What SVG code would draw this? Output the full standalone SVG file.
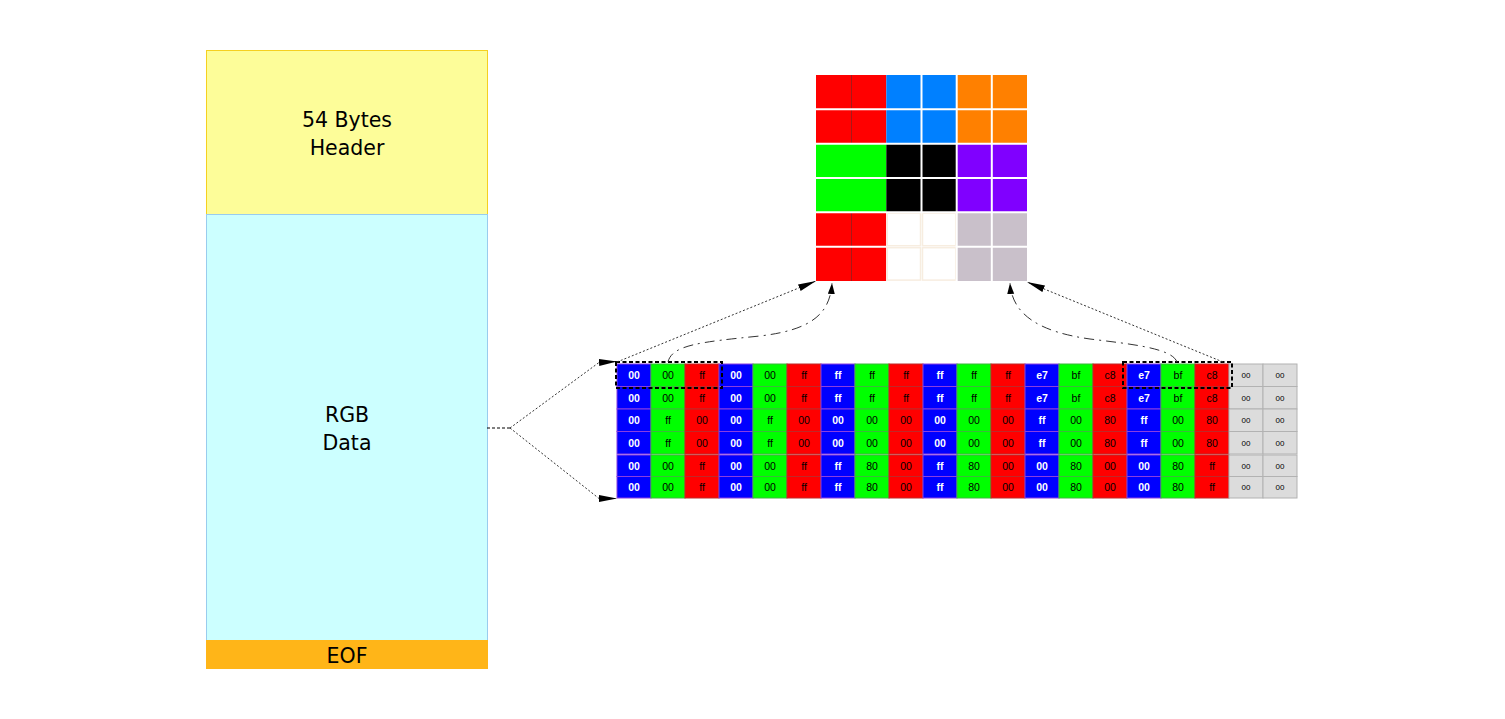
<svg xmlns="http://www.w3.org/2000/svg" xmlns:xlink="http://www.w3.org/1999/xlink" width="1505" height="719" viewBox="0 0 1505 719">
<style>
.lbl{font-family:"DejaVu Sans","Verdana",sans-serif;font-size:20.5px;fill:#000;text-anchor:middle}
.cb{fill:#0000ff;stroke:#8a3ee0;stroke-width:1}
.cg{fill:#00ff00;stroke:#3cb83c;stroke-width:1}
.cr{fill:#ff0000;stroke:#c02828;stroke-width:1}
.cz{fill:#dcdcdc;stroke:#b2b2b2;stroke-width:1}
.tb{font-family:"Liberation Sans",Arial,sans-serif;font-size:10.5px;font-weight:bold;fill:#fff;text-anchor:middle}
.tn{font-family:"Liberation Sans",Arial,sans-serif;font-size:10.5px;fill:#000;text-anchor:middle}
.tz{font-family:"Liberation Sans",Arial,sans-serif;font-size:8px;fill:#000;text-anchor:middle}
.dot{fill:none;stroke:#333;stroke-width:1;stroke-dasharray:2,2}
.dashdot{fill:none;stroke:#333;stroke-width:1;stroke-dasharray:10,5,2,5}
.sel{fill:none;stroke:#000;stroke-width:2;stroke-dasharray:4,2.5}
.wl{stroke:#fff;stroke-width:2}
</style>
<defs>
<marker id="ah" markerWidth="20" markerHeight="8" refX="18" refY="3.5" orient="auto" markerUnits="userSpaceOnUse"><path d="M0,0 L18,3.5 L0,7 z" fill="#000"/></marker>
<marker id="ahs" markerWidth="12" markerHeight="8" refX="11" refY="3.5" orient="auto" markerUnits="userSpaceOnUse"><path d="M0,0 L11,3.5 L0,7 z" fill="#000"/></marker>
<g id="cellsA">
<rect class="cb" x="617" y="0" width="34" height="22.5"/><rect class="cg" x="651" y="0" width="34" height="22.5"/><rect class="cr" x="685" y="0" width="34" height="22.5"/>
<rect class="cb" x="719" y="0" width="34" height="22.5"/><rect class="cg" x="753" y="0" width="34" height="22.5"/><rect class="cr" x="787" y="0" width="34" height="22.5"/>
<rect class="cb" x="821" y="0" width="34" height="22.5"/><rect class="cg" x="855" y="0" width="34" height="22.5"/><rect class="cr" x="889" y="0" width="34" height="22.5"/>
<rect class="cb" x="923" y="0" width="34" height="22.5"/><rect class="cg" x="957" y="0" width="34" height="22.5"/><rect class="cr" x="991" y="0" width="34" height="22.5"/>
<rect class="cb" x="1025" y="0" width="34" height="22.5"/><rect class="cg" x="1059" y="0" width="34" height="22.5"/><rect class="cr" x="1093" y="0" width="34" height="22.5"/>
<rect class="cb" x="1127" y="0" width="34" height="22.5"/><rect class="cg" x="1161" y="0" width="34" height="22.5"/><rect class="cr" x="1195" y="0" width="34" height="22.5"/>
<rect class="cz" x="1229" y="0" width="34" height="22.5"/><rect class="cz" x="1263" y="0" width="34" height="22.5"/>
</g>
<g id="cellsB">
<rect class="cb" x="617" y="0" width="34" height="21.5"/><rect class="cg" x="651" y="0" width="34" height="21.5"/><rect class="cr" x="685" y="0" width="34" height="21.5"/>
<rect class="cb" x="719" y="0" width="34" height="21.5"/><rect class="cg" x="753" y="0" width="34" height="21.5"/><rect class="cr" x="787" y="0" width="34" height="21.5"/>
<rect class="cb" x="821" y="0" width="34" height="21.5"/><rect class="cg" x="855" y="0" width="34" height="21.5"/><rect class="cr" x="889" y="0" width="34" height="21.5"/>
<rect class="cb" x="923" y="0" width="34" height="21.5"/><rect class="cg" x="957" y="0" width="34" height="21.5"/><rect class="cr" x="991" y="0" width="34" height="21.5"/>
<rect class="cb" x="1025" y="0" width="34" height="21.5"/><rect class="cg" x="1059" y="0" width="34" height="21.5"/><rect class="cr" x="1093" y="0" width="34" height="21.5"/>
<rect class="cb" x="1127" y="0" width="34" height="21.5"/><rect class="cg" x="1161" y="0" width="34" height="21.5"/><rect class="cr" x="1195" y="0" width="34" height="21.5"/>
<rect class="cz" x="1229" y="0" width="34" height="21.5"/><rect class="cz" x="1263" y="0" width="34" height="21.5"/>
</g>
</defs>
<rect x="0" y="0" width="1505" height="719" fill="#fff"/>

<g id="header">
<rect x="206.5" y="50.5" width="281" height="164" fill="#fdfd99" stroke="#f5d020" stroke-width="1"/>
<text class="lbl" x="347" y="127">54 Bytes</text>
<text class="lbl" x="347" y="155">Header</text>
</g>
<g id="rgb-data">
<rect x="206.5" y="214.5" width="281" height="426" fill="#ccffff" stroke="#99ccee" stroke-width="1"/>
<text class="lbl" x="347" y="421.5">RGB</text>
<text class="lbl" x="347" y="450">Data</text>
</g>
<g id="eof">
<rect x="206" y="640" width="282" height="29" fill="#ffb518"/>
<text class="lbl" x="347" y="662.5">EOF</text>
</g>

<g id="pixel-image">
<rect x="816" y="75" width="70.3" height="68.7" fill="#ff0000"/>
<rect x="886.3" y="75" width="70.4" height="68.7" fill="#0080ff"/>
<rect x="956.7" y="75" width="70.3" height="68.7" fill="#ff8000"/>
<rect x="816" y="143.7" width="70.3" height="68.6" fill="#00ff00"/>
<rect x="886.3" y="143.7" width="70.4" height="68.6" fill="#000000"/>
<rect x="956.7" y="143.7" width="70.3" height="68.6" fill="#8000ff"/>
<rect x="816" y="212.3" width="70.3" height="68.7" fill="#ff0000"/>
<rect x="886.3" y="212.3" width="70.4" height="68.7" fill="#ffffff"/>
<rect x="956.7" y="212.3" width="70.3" height="68.7" fill="#c9c0ca"/>
<g fill="none" stroke="#f7ede0" stroke-width="1.5">
<rect x="887.3" y="213.3" width="33.2" height="32.4"/>
<rect x="922.5" y="213.3" width="33.2" height="32.4"/>
<rect x="887.3" y="247.7" width="33.2" height="32.4"/>
<rect x="922.5" y="247.7" width="33.2" height="32.4"/>
</g>
<line x1="851.5" y1="75" x2="851.5" y2="143.7" stroke="#a81818" stroke-width="1"/>
<line x1="851.5" y1="212.3" x2="851.5" y2="281" stroke="#a81818" stroke-width="1"/>
<g class="wl">
<line x1="816" y1="109.3" x2="1027" y2="109.3"/>
<line x1="816" y1="143.7" x2="1027" y2="143.7"/>
<line x1="816" y1="178" x2="1027" y2="178"/>
<line x1="816" y1="212.3" x2="1027" y2="212.3"/>
<line x1="816" y1="246.7" x2="886.3" y2="246.7"/>
<line x1="956.7" y1="246.7" x2="1027" y2="246.7"/>
<line x1="921.5" y1="75" x2="921.5" y2="212.3"/>
<line x1="956.7" y1="75" x2="956.7" y2="281"/>
<line x1="991.8" y1="75" x2="991.8" y2="281"/>
</g>
</g>

<g id="byte-grid">
<use xlink:href="#cellsA" href="#cellsA" y="364"/>
<use xlink:href="#cellsA" href="#cellsA" y="386.5"/>
<use xlink:href="#cellsA" href="#cellsA" y="409"/>
<use xlink:href="#cellsA" href="#cellsA" y="431.5"/>
<use xlink:href="#cellsB" href="#cellsB" y="455"/>
<use xlink:href="#cellsB" href="#cellsB" y="476.5"/>

<text class="tb" y="379"><tspan x="634">00</tspan><tspan x="736">00</tspan><tspan x="838">ff</tspan><tspan x="940">ff</tspan><tspan x="1042">e7</tspan><tspan x="1144">e7</tspan></text>
<text class="tn" y="379"><tspan x="668">00</tspan><tspan x="770">00</tspan><tspan x="872">ff</tspan><tspan x="974">ff</tspan><tspan x="1076">bf</tspan><tspan x="1178">bf</tspan></text>
<text class="tn" y="379"><tspan x="702">ff</tspan><tspan x="804">ff</tspan><tspan x="906">ff</tspan><tspan x="1008">ff</tspan><tspan x="1110">c8</tspan><tspan x="1212">c8</tspan></text>
<text class="tz" y="378.4"><tspan x="1246">00</tspan><tspan x="1280">00</tspan></text>

<text class="tb" y="401.5"><tspan x="634">00</tspan><tspan x="736">00</tspan><tspan x="838">ff</tspan><tspan x="940">ff</tspan><tspan x="1042">e7</tspan><tspan x="1144">e7</tspan></text>
<text class="tn" y="401.5"><tspan x="668">00</tspan><tspan x="770">00</tspan><tspan x="872">ff</tspan><tspan x="974">ff</tspan><tspan x="1076">bf</tspan><tspan x="1178">bf</tspan></text>
<text class="tn" y="401.5"><tspan x="702">ff</tspan><tspan x="804">ff</tspan><tspan x="906">ff</tspan><tspan x="1008">ff</tspan><tspan x="1110">c8</tspan><tspan x="1212">c8</tspan></text>
<text class="tz" y="400.9"><tspan x="1246">00</tspan><tspan x="1280">00</tspan></text>

<text class="tb" y="424"><tspan x="634">00</tspan><tspan x="736">00</tspan><tspan x="838">00</tspan><tspan x="940">00</tspan><tspan x="1042">ff</tspan><tspan x="1144">ff</tspan></text>
<text class="tn" y="424"><tspan x="668">ff</tspan><tspan x="770">ff</tspan><tspan x="872">00</tspan><tspan x="974">00</tspan><tspan x="1076">00</tspan><tspan x="1178">00</tspan></text>
<text class="tn" y="424"><tspan x="702">00</tspan><tspan x="804">00</tspan><tspan x="906">00</tspan><tspan x="1008">00</tspan><tspan x="1110">80</tspan><tspan x="1212">80</tspan></text>
<text class="tz" y="423.4"><tspan x="1246">00</tspan><tspan x="1280">00</tspan></text>

<text class="tb" y="446.5"><tspan x="634">00</tspan><tspan x="736">00</tspan><tspan x="838">00</tspan><tspan x="940">00</tspan><tspan x="1042">ff</tspan><tspan x="1144">ff</tspan></text>
<text class="tn" y="446.5"><tspan x="668">ff</tspan><tspan x="770">ff</tspan><tspan x="872">00</tspan><tspan x="974">00</tspan><tspan x="1076">00</tspan><tspan x="1178">00</tspan></text>
<text class="tn" y="446.5"><tspan x="702">00</tspan><tspan x="804">00</tspan><tspan x="906">00</tspan><tspan x="1008">00</tspan><tspan x="1110">80</tspan><tspan x="1212">80</tspan></text>
<text class="tz" y="445.9"><tspan x="1246">00</tspan><tspan x="1280">00</tspan></text>

<text class="tb" y="469.5"><tspan x="634">00</tspan><tspan x="736">00</tspan><tspan x="838">ff</tspan><tspan x="940">ff</tspan><tspan x="1042">00</tspan><tspan x="1144">00</tspan></text>
<text class="tn" y="469.5"><tspan x="668">00</tspan><tspan x="770">00</tspan><tspan x="872">80</tspan><tspan x="974">80</tspan><tspan x="1076">80</tspan><tspan x="1178">80</tspan></text>
<text class="tn" y="469.5"><tspan x="702">ff</tspan><tspan x="804">ff</tspan><tspan x="906">00</tspan><tspan x="1008">00</tspan><tspan x="1110">00</tspan><tspan x="1212">ff</tspan></text>
<text class="tz" y="468.9"><tspan x="1246">00</tspan><tspan x="1280">00</tspan></text>

<text class="tb" y="491"><tspan x="634">00</tspan><tspan x="736">00</tspan><tspan x="838">ff</tspan><tspan x="940">ff</tspan><tspan x="1042">00</tspan><tspan x="1144">00</tspan></text>
<text class="tn" y="491"><tspan x="668">00</tspan><tspan x="770">00</tspan><tspan x="872">80</tspan><tspan x="974">80</tspan><tspan x="1076">80</tspan><tspan x="1178">80</tspan></text>
<text class="tn" y="491"><tspan x="702">ff</tspan><tspan x="804">ff</tspan><tspan x="906">00</tspan><tspan x="1008">00</tspan><tspan x="1110">00</tspan><tspan x="1212">ff</tspan></text>
<text class="tz" y="490.4"><tspan x="1246">00</tspan><tspan x="1280">00</tspan></text>
</g>

<g id="selections">
<rect class="sel" x="616" y="362" width="106" height="26"/>
<rect class="sel" x="1123" y="362" width="109" height="26"/>
</g>

<g id="connectors">
<path d="M487,428 L510,428" fill="none" stroke="#000" stroke-width="1" stroke-dasharray="3,2"/>
<path class="dot" d="M510,428 L599,362.5 L617,361.5" marker-end="url(#ah)"/>
<path class="dot" d="M510,428 L599,498.5 L617,498.5" marker-end="url(#ah)"/>
<path class="dot" d="M617,362 L816,281" marker-end="url(#ah)"/>
<path class="dashdot" d="M668,362 C672,345 700,342 760,336 C810,330 830,315 832,283" marker-end="url(#ahs)"/>
<path class="dot" d="M1223,362 L1027,282" marker-end="url(#ah)"/>
<path class="dashdot" d="M1177,362 C1172,348 1130,344 1090,339 C1040,332 1012,315 1010,283" marker-end="url(#ahs)"/>
</g>
</svg>
